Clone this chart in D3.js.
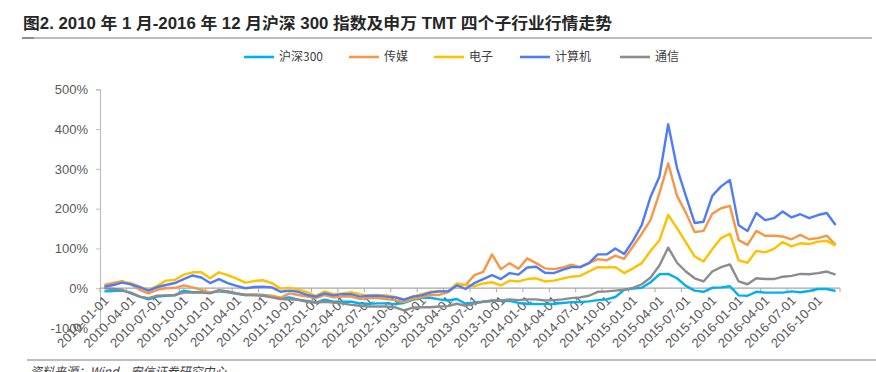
<!DOCTYPE html>
<html><head><meta charset="utf-8">
<script src="https://cdn.jsdelivr.net/npm/d3@7"></script>
<style>
html,body{margin:0;padding:0;background:#fff;}
svg{display:block;}
</style></head>
<body><svg id="c" width="876" height="372"></svg>
<script>
const titleText = "图2. 2010 年 1 月-2016 年 12 月沪深 300 指数及申万 TMT 四个子行业行情走势";
const sourceText = "资料来源：Wind，安信证券研究中心";
const seriesNames = ["沪深300","传媒","电子","计算机","通信"];
const seriesColors = ["#00B0F0","#F79646","#FFC000","#4F7CF7","#8C8C8C"];
const yTicks = [-100,0,100,200,300,400,500];

// months 2010-01 .. 2016-12
const categories = d3.timeMonth.range(new Date(2010,0,1), new Date(2017,0,1)).map(d3.timeFormat("%Y-%m-%d"));

const hs300 = [-8,-7,-6,-11,-21,-28,-21,-19,-18,-6,-10,-10,-11,-8,-10,-14,-17,-16,-17,-20,-25,-23,-29,-32,-36,-29,-34,-34,-34,-38,-39,-38,-38,-40,-37,-29,-24,-24,-28,-31,-27,-39,-36,-34,-32,-31,-32,-37,-39,-40,-40,-39,-37,-35,-35,-33,-30,-28,-22,-4,-1,1,15,35,36,25,6,-6,-9,1,2,5,-18,-19,-9,-11,-11,-11,-8,-10,-7,-2,-2,-7];
const media = [8,13,18,10,-4,-13,-4,0,1,7,2,-4,-11,-6,-8,-13,-16,-16,-18,-19,-24,-13,-17,-21,-25,-17,-23,-21,-21,-27,-25,-25,-27,-30,-35,-27,-23,-17,-17,-10,8,8,33,41,85,48,63,49,75,63,50,48,52,59,53,63,73,70,82,74,105,137,172,239,314,232,190,141,144,187,201,207,121,109,144,132,132,130,123,134,123,126,132,109];
const electronics = [4,8,15,13,4,-4,6,19,21,34,40,40,25,40,33,24,14,18,20,13,-1,1,-3,-10,-19,-8,-15,-13,-10,-15,-19,-17,-18,-22,-28,-21,-15,-9,-7,-8,12,8,5,12,15,7,19,17,23,25,17,19,24,29,31,42,53,52,53,38,50,63,94,120,184,151,115,80,67,98,126,137,70,64,94,90,99,116,105,113,111,117,119,107];
const computer = [4,8,14,10,3,-6,3,8,13,23,32,27,13,23,13,6,0,3,4,2,-9,-6,-9,-17,-21,-13,-18,-15,-15,-21,-19,-19,-21,-23,-29,-21,-18,-11,-8,-8,7,-2,13,23,33,23,38,34,52,54,39,38,46,53,53,63,85,85,100,86,119,159,230,280,412,302,232,164,167,232,256,272,158,144,189,171,176,193,178,186,176,184,189,159];
const telecom = [0,-2,-4,-13,-21,-25,-19,-18,-17,-11,-11,-11,-13,-5,-8,-13,-17,-18,-19,-23,-27,-28,-29,-34,-36,-34,-36,-38,-42,-44,-46,-46,-46,-48,-56,-49,-48,-48,-46,-45,-39,-44,-38,-34,-31,-31,-28,-30,-28,-28,-31,-30,-28,-25,-23,-19,-9,-8,-6,-4,1,10,27,57,102,64,42,25,17,42,53,60,17,10,25,23,23,29,31,36,35,38,42,34];
const seriesValues = [hs300, media, electronics, computer, telecom];

const svg = d3.select("#c");
const CJK = "'Liberation Sans','Noto Sans CJK SC',Arial,sans-serif";

// title
const tt = svg.append("text").attr("x",23).attr("y",29)
  .attr("font-family",CJK).attr("font-weight","bold").attr("font-size",16)
  .attr("fill","#262626").text(titleText);
const tl = tt.node().getComputedTextLength();
if (Math.abs(tl-589)>6) tt.attr("textLength",589).attr("lengthAdjust","spacingAndGlyphs");
svg.append("line").attr("x1",22).attr("x2",872).attr("y1",38).attr("y2",38)
  .attr("stroke","#a6a6a6").attr("stroke-width",1.5);
svg.append("line").attr("x1",22).attr("x2",34).attr("y1",38).attr("y2",38)
  .attr("stroke","#7f7f7f").attr("stroke-width",1.5);

// scales
const x = d3.scalePoint().domain(categories).range([100,840]).padding(0.5);
const step = x.step();
const y = d3.scaleLinear().domain([-100,500]).range([328,89.3]);

// y axis
const gy = svg.append("g").attr("transform","translate(100,0)")
  .call(d3.axisLeft(y).tickValues(yTicks).tickSize(4).tickPadding(8).tickFormat(d=>d+"%"));
gy.select(".domain").attr("stroke","#bfbfbf").attr("stroke-width",1.2);
gy.selectAll(".tick line").attr("stroke","#bfbfbf");
gy.selectAll(".tick text").attr("font-family","'Liberation Sans',Arial,sans-serif")
  .attr("font-size",13).attr("fill","#595959");

// x axis at 0
const y0 = y(0);
svg.append("line").attr("x1",100).attr("x2",840).attr("y1",y0).attr("y2",y0)
  .attr("stroke","#a6a6a6").attr("stroke-width",1.2);
const tickIdx = d3.range(0, categories.length+1, 3);
svg.append("g").selectAll("line").data(tickIdx).join("line")
  .attr("x1",i=>100+i*step).attr("x2",i=>100+i*step)
  .attr("y1",y0).attr("y2",y0+4).attr("stroke","#a6a6a6").attr("stroke-width",1);
const labelCats = categories.filter((d,i)=>i%3===0);
svg.append("g").selectAll("text").data(labelCats).join("text")
  .attr("transform",d=>`translate(${x(d)+2},${y0+10}) rotate(-45)`)
  .attr("text-anchor","end").attr("dy","0.35em")
  .attr("font-family","'Liberation Sans',Arial,sans-serif").attr("font-size",13)
  .attr("fill","#595959").text(d=>d);

// lines
const line = d3.line().x((d,i)=>x(categories[i])).y(d=>y(d));
svg.append("g").selectAll("path").data(seriesValues).join("path")
  .attr("d",d=>line(d)).attr("fill","none")
  .attr("stroke",(d,i)=>seriesColors[i]).attr("stroke-width",2.4)
  .attr("stroke-linejoin","round");

// legend
const legX = [244,349,434,520,620];
const lg = svg.append("g").selectAll("g").data(seriesNames).join("g")
  .attr("transform",(d,i)=>`translate(${legX[i]},57)`);
lg.append("line").attr("x1",0).attr("x2",30).attr("stroke",(d,i)=>seriesColors[i]).attr("stroke-width",2.6);
lg.append("text").attr("x",35).attr("dy","0.35em").attr("font-family","'Noto Sans CJK SC',sans-serif")
  .attr("font-size",12).attr("fill","#404040").text(d=>d);

// bottom
svg.append("line").attr("x1",27).attr("x2",876).attr("y1",360).attr("y2",360)
  .attr("stroke","#7f7f7f").attr("stroke-width",1.2);
svg.append("text").attr("x",30).attr("y",376).attr("font-family","'Noto Sans CJK SC',sans-serif")
  .attr("font-style","italic").attr("font-size",12).attr("fill","#404040").text(sourceText);
</script></body></html>
